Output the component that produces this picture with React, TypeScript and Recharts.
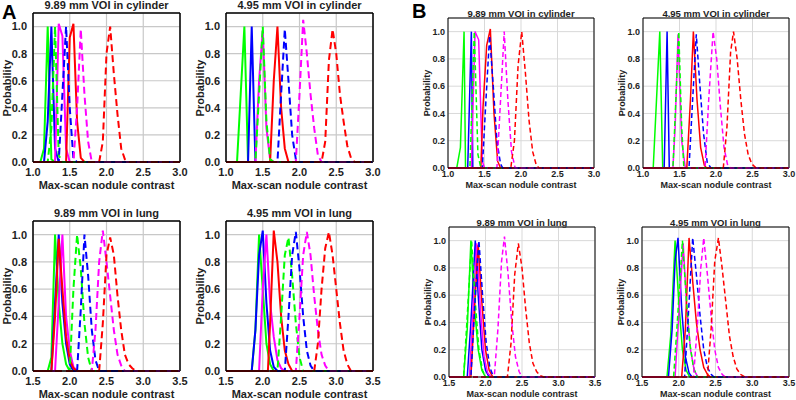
import React from 'react'
import { LineChart, Line, XAxis, YAxis, CartesianGrid, ReferenceLine } from 'recharts'

type Pt = [number, number]

// curve order in every panel: solid green, blue, magenta, red, then dashed green, blue, magenta, red
const colors = ['#00ff00', '#0000ff', '#ff00ff', '#ff0000']

const cylTicks = [1.0, 1.5, 2.0, 2.5, 3.0]
const lungTicks = [1.5, 2.0, 2.5, 3.0, 3.5]
const probTicks = [0, 0.2, 0.4, 0.6, 0.8, 1.0]

const a1Curves: Pt[][] = [
    [[1.1, 0], [1.15, 0.1], [1.2, 1.0], [1.25, 0.02], [1.3, 0]],
    [[1.15, 0], [1.2, 0.3], [1.25, 1.0], [1.3, 0.1], [1.35, 0]],
    [[1.3, 0], [1.35, 1.02], [1.4, 0.93], [1.45, 0.1], [1.5, 0]],
    [[1.45, 0], [1.5, 0.92], [1.55, 1.02], [1.6, 0.3], [1.65, 0.03], [1.7, 0]],
    [[1.2, 0], [1.25, 0.25], [1.3, 1.0], [1.35, 0.05], [1.4, 0]],
    [[1.35, 0], [1.4, 0.5], [1.45, 1.0], [1.5, 0.4], [1.55, 0.02], [1.6, 0]],
    [[1.55, 0], [1.6, 0.4], [1.65, 0.98], [1.7, 0.5], [1.75, 0.15], [1.8, 0]],
    [[1.9, 0], [1.95, 0.15], [2.0, 0.8], [2.05, 1.0], [2.1, 0.65], [2.15, 0.35], [2.2, 0.1], [2.25, 0.02], [2.3, 0]],
]

const a2Curves: Pt[][] = [
    [[1.15, 0], [1.2, 0.5], [1.25, 1.0], [1.3, 0]],
    [[1.3, 0], [1.35, 1.0], [1.4, 0]],
    [[1.4, 0], [1.45, 0.6], [1.5, 0.97], [1.55, 0.25], [1.6, 0.02], [1.65, 0]],
    [[1.6, 0], [1.65, 0.6], [1.7, 1.0], [1.75, 0.4], [1.8, 0.1], [1.85, 0]],
    [[1.4, 0], [1.45, 0.5], [1.5, 1.0], [1.55, 0.3], [1.6, 0.02], [1.65, 0]],
    [[1.7, 0], [1.75, 0.5], [1.8, 0.98], [1.85, 0.6], [1.9, 0.2], [1.95, 0.02], [2.0, 0]],
    [[1.95, 0], [2.0, 0.5], [2.05, 1.05], [2.1, 0.8], [2.15, 0.5], [2.2, 0.25], [2.25, 0.05], [2.3, 0]],
    [[2.3, 0], [2.35, 0.15], [2.4, 0.75], [2.45, 0.98], [2.5, 0.8], [2.55, 0.5], [2.6, 0.3], [2.65, 0.12], [2.7, 0.03], [2.75, 0]],
]

const a3Curves: Pt[][] = [
    [[1.7, 0], [1.75, 0.1], [1.8, 1.0], [1.85, 0.5], [1.9, 0.2], [1.95, 0.05], [2.0, 0]],
    [[1.75, 0], [1.8, 0.5], [1.85, 1.0], [1.9, 0.5], [1.95, 0.2], [2.0, 0.05], [2.05, 0]],
    [[1.8, 0], [1.85, 0.5], [1.9, 1.0], [1.95, 0.4], [2.0, 0.15], [2.05, 0.03], [2.1, 0]],
    [[1.75, 0], [1.8, 0.4], [1.85, 0.97], [1.9, 0.6], [1.95, 0.25], [2.0, 0.08], [2.05, 0.02], [2.1, 0]],
    [[2.0, 0], [2.05, 0.6], [2.1, 1.0], [2.15, 0.75], [2.2, 0.35], [2.25, 0.1], [2.3, 0]],
    [[2.1, 0], [2.15, 0.45], [2.2, 1.0], [2.25, 0.7], [2.3, 0.3], [2.35, 0.08], [2.4, 0]],
    [[2.3, 0], [2.35, 0.3], [2.4, 0.8], [2.45, 1.03], [2.5, 0.8], [2.55, 0.55], [2.6, 0.3], [2.65, 0.12], [2.7, 0.04], [2.75, 0]],
    [[2.4, 0], [2.45, 0.35], [2.5, 0.85], [2.55, 0.98], [2.6, 0.85], [2.65, 0.55], [2.7, 0.3], [2.75, 0.12], [2.8, 0.05], [2.85, 0.02], [2.9, 0]],
]

const a4Curves: Pt[][] = [
    [[1.85, 0], [1.9, 0.3], [1.95, 1.0], [2.0, 0.6], [2.05, 0.2], [2.1, 0.05], [2.15, 0]],
    [[1.85, 0], [1.9, 0.3], [1.95, 0.85], [2.0, 1.03], [2.05, 0.5], [2.1, 0.15], [2.15, 0.03], [2.2, 0]],
    [[1.95, 0], [2.0, 0.6], [2.05, 1.0], [2.1, 0.5], [2.15, 0.25], [2.2, 0.08], [2.25, 0.02], [2.3, 0]],
    [[2.07, 0], [2.1, 0.35], [2.15, 1.03], [2.2, 0.8], [2.25, 0.4], [2.3, 0.15], [2.35, 0.05], [2.4, 0]],
    [[2.2, 0], [2.25, 0.4], [2.3, 0.85], [2.35, 0.98], [2.4, 0.7], [2.45, 0.35], [2.5, 0.1], [2.55, 0]],
    [[2.3, 0], [2.35, 0.4], [2.4, 0.85], [2.45, 1.02], [2.5, 0.75], [2.55, 0.4], [2.6, 0.15], [2.65, 0.04], [2.7, 0]],
    [[2.45, 0], [2.5, 0.4], [2.55, 0.85], [2.6, 1.02], [2.65, 0.85], [2.7, 0.55], [2.75, 0.3], [2.8, 0.12], [2.85, 0.04], [2.9, 0]],
    [[2.7, 0], [2.75, 0.2], [2.8, 0.6], [2.85, 0.9], [2.9, 1.02], [2.95, 0.85], [3.0, 0.6], [3.05, 0.35], [3.1, 0.15], [3.15, 0.05], [3.2, 0]],
]

const b1Curves: Pt[][] = [
    [[1.12, 0], [1.17, 0.15], [1.22, 1.0], [1.24, 0]],
    [[1.27, 0], [1.32, 1.0], [1.34, 0]],
    [[1.32, 0], [1.37, 1.0], [1.42, 0.94], [1.47, 0.05], [1.5, 0]],
    [[1.45, 0], [1.48, 0.45], [1.53, 0.9], [1.58, 1.02], [1.63, 0.4], [1.68, 0.05], [1.72, 0]],
    [[1.3, 0], [1.36, 1.0], [1.41, 0.1], [1.45, 0]],
    [[1.47, 0], [1.52, 0.5], [1.57, 0.97], [1.62, 0.6], [1.67, 0.2], [1.72, 0.03], [1.75, 0]],
    [[1.67, 0], [1.72, 0.5], [1.77, 1.0], [1.82, 0.5], [1.87, 0.12], [1.92, 0]],
    [[1.86, 0], [1.91, 0.2], [1.96, 0.75], [2.01, 1.0], [2.06, 0.7], [2.11, 0.35], [2.16, 0.12], [2.21, 0.02], [2.25, 0]],
]

const b2Curves: Pt[][] = [
    [[1.14, 0], [1.23, 1.0], [1.27, 0]],
    [[1.29, 0], [1.33, 1.0], [1.36, 0]],
    [[1.41, 0], [1.44, 0.3], [1.48, 0.98], [1.53, 0.2], [1.58, 0]],
    [[1.6, 0], [1.65, 0.5], [1.69, 1.0], [1.74, 0.5], [1.79, 0.15], [1.84, 0.02], [1.87, 0]],
    [[1.41, 0], [1.45, 0.5], [1.49, 1.0], [1.53, 0.3], [1.56, 0]],
    [[1.63, 0], [1.68, 0.5], [1.73, 0.98], [1.78, 0.6], [1.83, 0.25], [1.88, 0.04], [1.93, 0]],
    [[1.85, 0], [1.9, 0.5], [1.96, 1.0], [2.01, 0.8], [2.06, 0.45], [2.11, 0.15], [2.16, 0.02], [2.2, 0]],
    [[2.1, 0], [2.15, 0.3], [2.2, 0.85], [2.24, 1.0], [2.29, 0.8], [2.34, 0.5], [2.39, 0.25], [2.44, 0.1], [2.49, 0.03], [2.55, 0]],
]

const b3Curves: Pt[][] = [
    [[1.7, 0], [1.75, 0.35], [1.8, 1.0], [1.85, 0.5], [1.9, 0.2], [1.95, 0.05], [2.0, 0]],
    [[1.75, 0], [1.8, 0.4], [1.86, 1.0], [1.9, 0.6], [1.95, 0.2], [2.0, 0.05], [2.05, 0]],
    [[1.78, 0], [1.83, 0.5], [1.88, 0.98], [1.93, 0.5], [1.98, 0.15], [2.03, 0.03], [2.08, 0]],
    [[1.8, 0], [1.85, 0.5], [1.9, 0.97], [1.95, 0.55], [2.0, 0.2], [2.05, 0.05], [2.1, 0]],
    [[1.7, 0], [1.75, 0.45], [1.81, 1.0], [1.86, 0.55], [1.91, 0.2], [1.96, 0.05], [2.0, 0]],
    [[1.8, 0], [1.85, 0.5], [1.91, 1.0], [1.96, 0.6], [2.01, 0.25], [2.06, 0.07], [2.11, 0]],
    [[2.12, 0], [2.17, 0.35], [2.22, 0.85], [2.26, 1.03], [2.31, 0.75], [2.36, 0.4], [2.41, 0.15], [2.46, 0.04], [2.5, 0]],
    [[2.3, 0], [2.35, 0.25], [2.4, 0.75], [2.45, 0.98], [2.5, 0.8], [2.55, 0.5], [2.6, 0.25], [2.65, 0.1], [2.7, 0.04], [2.75, 0.01], [2.8, 0]],
]

const b4Curves: Pt[][] = [
    [[1.84, 0], [1.89, 0.3], [1.95, 1.0], [2.0, 0.55], [2.05, 0.2], [2.1, 0.05], [2.15, 0]],
    [[1.86, 0], [1.91, 0.35], [1.95, 0.85], [1.99, 1.02], [2.04, 0.5], [2.09, 0.15], [2.14, 0.03], [2.18, 0]],
    [[1.95, 0], [2.0, 0.45], [2.06, 0.98], [2.11, 0.5], [2.16, 0.2], [2.21, 0.05], [2.26, 0]],
    [[2.04, 0], [2.09, 0.35], [2.14, 1.02], [2.19, 0.7], [2.24, 0.4], [2.29, 0.2], [2.34, 0.07], [2.39, 0.02], [2.43, 0]],
    [[1.93, 0], [1.98, 0.4], [2.05, 1.0], [2.1, 0.6], [2.15, 0.25], [2.2, 0.07], [2.25, 0]],
    [[2.08, 0], [2.13, 0.45], [2.19, 1.02], [2.24, 0.75], [2.29, 0.45], [2.34, 0.2], [2.39, 0.07], [2.44, 0.02], [2.48, 0]],
    [[2.2, 0], [2.25, 0.35], [2.3, 0.8], [2.34, 1.02], [2.39, 0.75], [2.44, 0.45], [2.49, 0.2], [2.54, 0.07], [2.59, 0.02], [2.63, 0]],
    [[2.39, 0], [2.44, 0.35], [2.49, 0.85], [2.54, 1.02], [2.59, 0.8], [2.64, 0.55], [2.69, 0.3], [2.74, 0.15], [2.79, 0.06], [2.84, 0.02], [2.9, 0]],
]

const FONT = '"Liberation Sans", Arial, Helvetica, sans-serif'
const TEXT = '#1e1e1e'

const styles = {
    A: { fs: 11, titleFs: 11, titleGap: 2, lw: 2, dash: '7 4', axisW: 1.5, grid: '#c8c8c8', gridW: 1.2, tickGapY: 6, tickGapX: 6, xLab: 23, yLab: 26 },
    B: { fs: 9, titleFs: 9.5, titleGap: 0, lw: 1.5, dash: '5 3', axisW: 1, grid: '#d9d9d9', gridW: 1, tickGapY: 3, tickGapX: 3, xLab: 17, yLab: 21 },
}

interface iPanel {
    x: number, y: number, w: number, h: number,
    title: string, ticks: number[], curves: Pt[][], variant: 'A' | 'B'
}

const YW = 40
const XH = 22
const M = 4
const RM = 12

const Panel = ({ x, y, w, h, title, ticks, curves, variant }: iPanel) => {
    const s = styles[variant]
    const x0 = ticks[0]
    const x1 = ticks[ticks.length - 1]
    const fmt = (v: number) => v.toFixed(1)
    return <>
        <div style={{ position: 'absolute', left: x - 20, width: w + 40, top: y - s.titleFs - s.titleGap, textAlign: 'center',
            fontSize: s.titleFs, fontWeight: 'bold', lineHeight: 1, fontFamily: FONT, color: TEXT, whiteSpace: 'nowrap' }}>{title}</div>
        <div style={{ position: 'absolute', left: x - 20, width: w + 40, top: y + h + s.xLab - s.fs / 2, textAlign: 'center',
            fontSize: s.fs, fontWeight: 'bold', lineHeight: 1, fontFamily: FONT, color: TEXT, whiteSpace: 'nowrap' }}>Max-scan nodule contrast</div>
        <div style={{ position: 'absolute', left: x - s.yLab, top: y + h / 2, transform: 'translate(-50%,-50%) rotate(-90deg)',
            fontSize: s.fs, fontWeight: 'bold', lineHeight: 1, fontFamily: FONT, color: TEXT, whiteSpace: 'nowrap' }}>Probability</div>
        <div style={{ position: 'absolute', left: x - YW, top: y - M }}>
            <LineChart width={YW + w + RM} height={M + h + XH} margin={{ top: M, right: RM, left: 0, bottom: 0 }}>
                <CartesianGrid stroke={s.grid} strokeWidth={s.gridW} />
                <XAxis dataKey='x' type='number' domain={[x0, x1]} ticks={ticks} interval={0} height={XH}
                    tickFormatter={fmt} tickLine={false} tickSize={s.tickGapX} tickMargin={0}
                    axisLine={{ stroke: '#000', strokeWidth: s.axisW }}
                    tick={{ fill: TEXT, fontSize: s.fs, fontWeight: 'bold', fontFamily: FONT }} />
                <YAxis type='number' domain={[0, 1.1]} ticks={probTicks} interval={0} width={YW}
                    tickFormatter={fmt} tickLine={false} tickSize={s.tickGapY} tickMargin={0}
                    axisLine={{ stroke: '#000', strokeWidth: s.axisW }}
                    tick={{ fill: TEXT, fontSize: s.fs, fontWeight: 'bold', fontFamily: FONT }} />
                <ReferenceLine y={1.1} stroke='#000' strokeWidth={s.axisW} />
                <ReferenceLine x={x1} stroke='#000' strokeWidth={s.axisW} />
                {curves.map((pts, i) => {
                    // every curve sits on the zero line across the whole axis range
                    const full: Pt[] = [[x0, 0], ...pts, [x1, 0]]
                    return <Line key={i} data={full.map(([px, py]) => ({ x: px, y: py }))} dataKey='y' type='linear'
                        stroke={colors[i % 4]} strokeWidth={s.lw} strokeDasharray={i >= 4 ? s.dash : undefined}
                        dot={false} activeDot={false} isAnimationActive={false} />
                })}
            </LineChart>
        </div>
    </>
}

const letter = { position: 'absolute' as const, fontSize: 20, fontWeight: 'bold' as const, fontFamily: FONT, color: '#000', lineHeight: 1 }

export default function App() {
    return <div style={{ position: 'absolute', left: 0, top: 0, width: 796, height: 400, background: '#fff', overflow: 'hidden' }}>
        <div style={{ ...letter, left: 2, top: 2 }}>A</div>
        <div style={{ ...letter, left: 412, top: 1 }}>B</div>
        <Panel variant='A' x={33} y={13} w={147} h={149} title='9.89 mm VOI in cylinder' ticks={cylTicks} curves={a1Curves} />
        <Panel variant='A' x={226} y={13} w={147} h={149} title='4.95 mm VOI in cylinder' ticks={cylTicks} curves={a2Curves} />
        <Panel variant='A' x={33} y={221} w={147} h={150} title='9.89 mm VOI in lung' ticks={lungTicks} curves={a3Curves} />
        <Panel variant='A' x={226} y={221} w={147} h={150} title='4.95 mm VOI in lung' ticks={lungTicks} curves={a4Curves} />
        <Panel variant='B' x={448} y={18} w={146} h={150} title='9.89 mm VOI in cylinder' ticks={cylTicks} curves={b1Curves} />
        <Panel variant='B' x={643} y={18} w={146} h={150} title='4.95 mm VOI in cylinder' ticks={cylTicks} curves={b2Curves} />
        <Panel variant='B' x={449} y={227} w={146} h={150} title='9.89 mm VOI in lung' ticks={lungTicks} curves={b3Curves} />
        <Panel variant='B' x={642} y={227} w={147} h={150} title='4.95 mm VOI in lung' ticks={lungTicks} curves={b4Curves} />
    </div>
}
